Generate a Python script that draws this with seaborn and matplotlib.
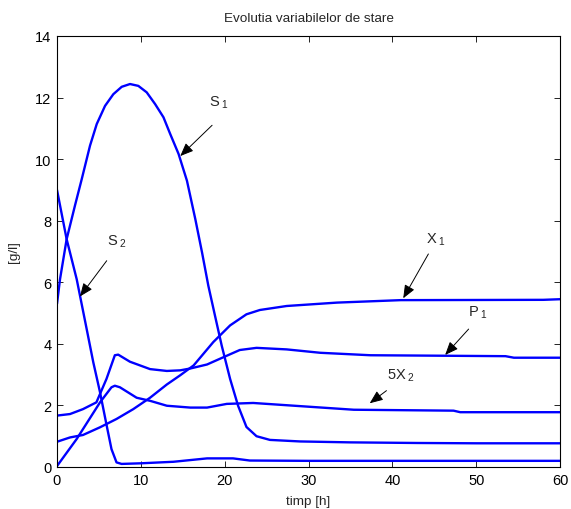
import matplotlib
matplotlib.use("Agg")
import matplotlib.pyplot as plt
import seaborn as sns
import pandas as pd

# ---- data ----
s1_t = [0, 0.36, 1.15, 2.15, 2.95, 3.94, 4.74, 5.73, 6.72, 7.72, 8.71, 9.7, 10.7, 11.7, 12.7,
        13.5, 14.5, 15.5, 16.5, 17.3, 18.05, 18.85, 19.65, 20.65, 21.6, 22.6, 23.8, 25.4,
        29, 35, 43, 50, 60]
s1_v = [5.3, 6.1, 7.4, 8.5, 9.35, 10.44, 11.14, 11.73, 12.11, 12.35, 12.44, 12.38, 12.17, 11.79, 11.36,
        10.82, 10.17, 9.3, 8.05, 6.97, 5.89, 4.91, 3.94, 2.86, 1.99, 1.3, 1.0, 0.88,
        0.83, 0.8, 0.78, 0.77, 0.77]

s2_t = [0, 1.15, 2.35, 3.54, 4.33, 5.13, 5.93, 6.5, 7.1, 7.7, 10, 13.9, 17.9, 21, 23, 30, 60]
s2_v = [9.0, 7.4, 6.1, 4.48, 3.4, 2.43, 1.34, 0.58, 0.15, 0.1, 0.12, 0.17, 0.28, 0.28, 0.21, 0.2, 0.2]

p1_t = [0, 1.55, 3.1, 4.7, 5.9, 6.9, 7.3, 8.7, 11.1, 13.1, 14.7, 15.9, 17.9, 19.8, 21.8, 23.8,
        27.4, 31.4, 37.4, 43, 53.5, 54.5, 60]
p1_v = [1.67, 1.72, 1.88, 2.1, 2.86, 3.63, 3.65, 3.42, 3.18, 3.12, 3.14, 3.2, 3.33, 3.56, 3.8, 3.87,
        3.82, 3.71, 3.63, 3.62, 3.6, 3.55, 3.55]

x1_t = [0, 1.55, 3.1, 5.13, 7.1, 9.1, 11.1, 13.1, 14.7, 16.3, 18.65, 20.65, 22.6, 24.2, 27.4, 33.4, 41, 58, 60]
x1_v = [0.82, 0.96, 1.04, 1.29, 1.56, 1.88, 2.25, 2.68, 2.98, 3.3, 4.06, 4.6, 4.96, 5.1, 5.23, 5.34, 5.42, 5.43, 5.45]

x2_t = [0, 2.35, 5.13, 6.5, 6.9, 7.5, 9.5, 11.1, 13.1, 15.9, 17.9, 20.25, 23.4, 29.4, 35.4, 47.3, 48.1, 60]
x2_v = [0.03, 0.91, 2.1, 2.59, 2.64, 2.59, 2.25, 2.15, 1.99, 1.93, 1.93, 2.05, 2.08, 1.97, 1.86, 1.83, 1.78, 1.78]

series = {"S1": (s1_t, s1_v), "S2": (s2_t, s2_v), "P1": (p1_t, p1_v),
          "X1": (x1_t, x1_v), "5X2": (x2_t, x2_v)}

# label text, text position, arrow tail, arrow head
annots = [
    ("S", "1", (18.1, 11.85), (18.5, 11.1), (14.7, 10.1)),
    ("S", "2", (5.97, 7.34), (5.93, 6.7), (2.74, 5.54)),
    ("X", "1", (44.0, 7.4), (44.3, 6.92), (41.3, 5.48)),
    ("P", "1", (49.0, 5.03), (49.1, 4.48), (46.3, 3.64)),
    ("5X", "2", (39.4, 2.99), (39.3, 2.48), (37.3, 2.07)),
]

x_ticks = [0, 10, 20, 30, 40, 50, 60]
y_ticks = [0, 2, 4, 6, 8, 10, 12, 14]

# ---- style ----
sns.set_style("ticks", {"xtick.direction": "in", "ytick.direction": "in"})
plt.rcParams["font.family"] = ["Liberation Sans", "DejaVu Sans"]
plt.rcParams["mathtext.fontset"] = "custom"
plt.rcParams["mathtext.rm"] = "Liberation Sans"
plt.rcParams["mathtext.it"] = "Liberation Sans"
plt.rcParams["mathtext.default"] = "regular"

fig = plt.figure(figsize=(5.71, 5.10), dpi=100)
ax = fig.add_axes([57 / 571, (510 - 468) / 510, (560 - 57) / 571, (468 - 37) / 510])

for name, (t, v) in series.items():
    df = pd.DataFrame({"t": t, "v": v})
    sns.lineplot(data=df, x="t", y="v", ax=ax, color=(0, 0, 1), lw=1.7,
                 estimator=None, sort=False)

for main, sub, tpos, tail, head in annots:
    ax.annotate("", xy=head, xytext=tail,
                arrowprops=dict(arrowstyle="-|>,head_length=0.8,head_width=0.33",
                                color="k", lw=0.7, shrinkA=0, shrinkB=0))
    ax.text(tpos[0], tpos[1], main + r"$_{\ " + sub + "}$", fontsize=10.5,
            ha="left", va="center")

ax.set_xlim(0, 60)
ax.set_ylim(0, 14)
ax.set_xticks(x_ticks)
ax.set_yticks(y_ticks)
ax.tick_params(top=True, right=True, length=4, width=0.6, labelsize=10.5, colors="k", pad=4)
for sp in ax.spines.values():
    sp.set_visible(True)
    sp.set_linewidth(0.8)
    sp.set_color("k")

ax.set_title("Evolutia variabilelor de stare", fontsize=9.7, pad=11)
ax.set_xlabel("timp [h]", fontsize=9.7, labelpad=6)
ax.set_ylabel("[g/l]", fontsize=9.7, labelpad=11)

fig.savefig("out.png", dpi=100)
